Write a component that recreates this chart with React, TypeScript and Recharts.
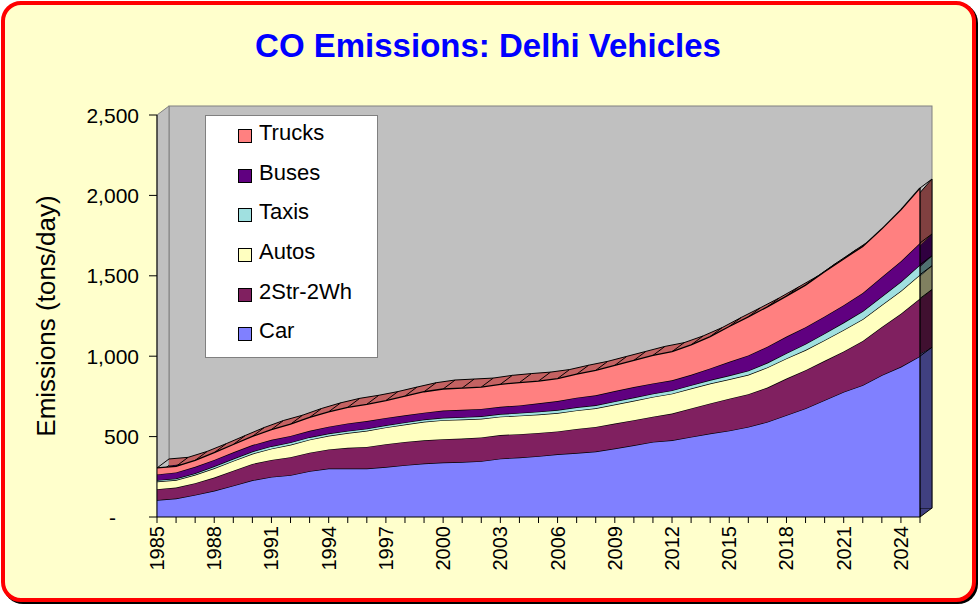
import React from "react";
import { AreaChart, Area, XAxis, YAxis, Legend, ReferenceLine, Label } from "recharts";

const years = [
  1985, 1986, 1987, 1988, 1989, 1990, 1991, 1992, 1993, 1994,
  1995, 1996, 1997, 1998, 1999, 2000, 2001, 2002, 2003, 2004,
  2005, 2006, 2007, 2008, 2009, 2010, 2011, 2012, 2013, 2014,
  2015, 2016, 2017, 2018, 2019, 2020, 2021, 2022, 2023, 2024,
  2025,
];
const labeledYears = [1985, 1988, 1991, 1994, 1997, 2000, 2003, 2006, 2009, 2012, 2015, 2018, 2021, 2024];

// tons/day, per vehicle class (stacked)
const car = [
  105, 115, 137, 163, 195, 228, 249, 260, 285, 301,
  301, 301, 311, 322, 332, 339, 342, 347, 363, 370,
  378, 390, 398, 407, 426, 446, 467, 477, 498, 519,
  537, 560, 591, 633, 675, 726, 778, 820, 882, 934,
  1000,
];
const twoStroke = [
  68, 68, 73, 82, 93, 102, 106, 112, 115, 119,
  129, 135, 142, 145, 145, 145, 146, 148, 147, 145,
  145, 142, 150, 153, 155, 156, 157, 166, 177, 187,
  199, 204, 214, 228, 238, 245, 252, 275, 300, 330,
  359,
];
const autos = [
  47, 47, 52, 58, 61, 63, 70, 77, 81, 85,
  92, 100, 104, 108, 115, 118, 118, 116, 114, 115,
  114, 114, 115, 116, 118, 121, 123, 124, 124, 124,
  120, 120, 125, 125, 125, 128, 133, 135, 137, 142,
  148,
];
const taxis = [
  9, 9, 10, 12, 13, 14, 15, 15, 15, 14,
  13, 13, 13, 13, 14, 15, 15, 15, 16, 17,
  18, 19, 19, 19, 20, 20, 20, 20, 21, 22,
  24, 26, 29, 33, 38, 42, 46, 50, 53, 57,
  62,
];
const buses = [
  36, 38, 40, 40, 40, 40, 40, 40, 40, 43,
  47, 48, 46, 44, 43, 45, 46, 46, 45, 47,
  52, 56, 60, 62, 64, 65, 64, 63, 64, 72,
  85, 95, 100, 103, 104, 106, 108, 113, 120, 128,
  135,
];
const trucks = [
  40, 38, 40, 45, 49, 54, 64, 73, 83, 92,
  100, 104, 108, 120, 130, 134, 135, 136, 140, 142,
  138, 140, 146, 155, 160, 166, 174, 178, 186, 198,
  220, 240, 248, 252, 262, 278, 288, 290, 300, 320,
  342,
];
const yTicks = [0, 500, 1000, 1500, 2000, 2500];

const series = [
  { key: "car", name: "Car", fill: "#8080FF", side: "#404080" },
  { key: "twoStroke", name: "2Str-2Wh", fill: "#802060", side: "#401030" },
  { key: "autos", name: "Autos", fill: "#FFFFC0", side: "#808060" },
  { key: "taxis", name: "Taxis", fill: "#A0E0E0", side: "#507070" },
  { key: "buses", name: "Buses", fill: "#600080", side: "#300040" },
  { key: "trucks", name: "Trucks", fill: "#FF8080", side: "url(#truckDepth)" },
];

const data = years.map((year, i) => ({
  year,
  car: car[i],
  twoStroke: twoStroke[i],
  autos: autos[i],
  taxis: taxis[i],
  buses: buses[i],
  trucks: trucks[i],
}));
const last = data[data.length - 1];
const lastTotal = last.car + last.twoStroke + last.autos + last.taxis + last.buses + last.trucks;

// layout
const W = 978;
const H = 604;
const PLOT_L = 157;
const PLOT_R = 920;
const PLOT_T = 115;
const PLOT_B = 517;
const DX = 12; // 3d depth
const DY = 9;
const Y_AXIS_W = 130;
const X_AXIS_H = 60;
const FONT = "'Liberation Sans', Arial, sans-serif";

function YearTick({ x, y, payload }: any) {
  const yr = Number(payload.value);
  if (!labeledYears.includes(yr)) return <g />;
  return (
    <text x={x} y={y + 1} transform={`rotate(-90 ${x} ${y + 1})`} textAnchor="end"
      dominantBaseline="central" fontSize={20} fontFamily={FONT} fill="#000">
      {yr}
    </text>
  );
}

function ValueTick({ x, y, payload }: any) {
  const v = Number(payload.value);
  return (
    <text x={v === 0 ? x - 23 : x} y={y} textAnchor="end" dominantBaseline="central"
      fontSize={21} fontFamily={FONT} fill="#000">
      {v === 0 ? "-" : v.toLocaleString("en-US")}
    </text>
  );
}

function AxisTitle({ viewBox }: any) {
  const cy = viewBox.y + viewBox.height / 2;
  return (
    <text x={46} y={cy} transform={`rotate(-90 46 ${cy})`} textAnchor="middle"
      dominantBaseline="central" fontSize={26} fontFamily={FONT} fill="#000">
      Emissions (tons/day)
    </text>
  );
}

function LegendBox() {
  return (
    <div style={{ width: 173, height: 243, background: "#fff", border: "1px solid #808080",
      boxSizing: "border-box", fontFamily: FONT }}>
      {[...series].reverse().map((s) => (
        <div key={s.key} style={{ height: 39.7, display: "flex", alignItems: "center" }}>
          <span style={{ width: 12, height: 12, marginLeft: 32, border: "1px solid #000",
            background: s.fill, display: "inline-block" }} />
          <span style={{ marginLeft: 7, fontSize: 22, color: "#000", position: "relative", top: -3 }}>
            {s.name}
          </span>
        </div>
      ))}
    </div>
  );
}

const depthEdge = (p: any) => (
  <line key={`${p.dataKey}-${p.index}`} x1={p.cx} y1={p.cy} x2={p.cx - DX} y2={p.cy + DY}
    stroke="#000" strokeWidth={1} />
);

export default function App() {
  return (
    <div style={{ position: "absolute", left: 0, top: 0, width: W, height: H }}>
      <div style={{ position: "absolute", left: 1, top: 1, width: 975, height: 601,
        boxSizing: "border-box", border: "4px solid #FF0000", borderRadius: 20,
        background: "#FFFFCC", boxShadow: "2px 2px 0 #000" }} />
      <svg width={W} height={H} style={{ position: "absolute", left: 0, top: 0 }}>
        <text x={488} y={57} textAnchor="middle" fontSize={33} fontWeight="bold"
          fontFamily={FONT} fill="#0000FF">CO Emissions: Delhi Vehicles</text>
        <rect x={PLOT_L + DX} y={PLOT_T - DY} width={PLOT_R - PLOT_L} height={PLOT_B - PLOT_T}
          fill="#C0C0C0" stroke="#808080" />
        <polygon points={`${PLOT_L},${PLOT_T} ${PLOT_L + DX},${PLOT_T - DY} ${PLOT_L + DX},${PLOT_B - DY} ${PLOT_L},${PLOT_B}`}
          fill="#C0C0C0" stroke="#808080" />
        <polygon points={`${PLOT_R},${PLOT_B} ${PLOT_R + DX},${PLOT_B - DY} ${PLOT_R},${PLOT_B - DY}`}
          fill="#404080" stroke="#000" />
      </svg>
      <div style={{ position: "absolute", left: 0, top: 0 }}>
        <AreaChart width={W} height={H} data={data}
          margin={{ top: PLOT_T - DY, right: W - PLOT_R - DX, bottom: H - PLOT_B + DY, left: PLOT_L + DX }}>
          <defs>
            <linearGradient id="truckDepth" gradientUnits="userSpaceOnUse" x1={0} y1={0} x2={W} y2={0}>
              <stop offset={PLOT_R / W} stopColor="#C46262" />
              <stop offset={PLOT_R / W} stopColor="#804040" />
            </linearGradient>
          </defs>
          <XAxis dataKey="year" hide />
          <YAxis hide domain={[0, 2500]} ticks={yTicks} />
          {series.map((s) => (
            <Area key={s.key} type="linear" dataKey={s.key} stackId="back" stroke="#000"
              strokeWidth={1} fill={s.side} fillOpacity={1} dot={depthEdge} activeDot={false}
              isAnimationActive={false} />
          ))}
          <ReferenceLine segment={[{ x: 2025, y: 0 }, { x: 2025, y: lastTotal }]} stroke="#000" />
        </AreaChart>
      </div>
      <div style={{ position: "absolute", left: 0, top: 0 }}>
        <AreaChart width={W} height={H} data={data}
          margin={{ top: PLOT_T, right: W - PLOT_R, bottom: H - PLOT_B - X_AXIS_H, left: PLOT_L - Y_AXIS_W }}>
          <XAxis dataKey="year" interval={0} height={X_AXIS_H} tick={<YearTick />} tickSize={6}
            stroke="#000" tickLine={{ stroke: "#000" }} axisLine={{ stroke: "#000" }} />
          <YAxis width={Y_AXIS_W} domain={[0, 2500]} ticks={yTicks} tick={<ValueTick />} tickSize={8}
            tickMargin={10} axisLine={{ stroke: "#000" }} tickLine={{ stroke: "#000" }}>
            <Label content={<AxisTitle />} />
          </YAxis>
          {series.map((s) => (
            <Area key={s.key} type="linear" dataKey={s.key} name={s.name} stackId="front"
              stroke="#000" strokeWidth={1.3} fill={s.fill} fillOpacity={1} dot={false}
              activeDot={false} isAnimationActive={false} />
          ))}
          <ReferenceLine segment={[{ x: 2025, y: 0 }, { x: 2025, y: lastTotal }]} stroke="#000" strokeWidth={1.3} />
          <Legend layout="vertical" align="center" verticalAlign="middle" content={<LegendBox />}
            wrapperStyle={{ left: 205, top: 115, width: 173, height: 243 }} />
        </AreaChart>
      </div>
    </div>
  );
}
